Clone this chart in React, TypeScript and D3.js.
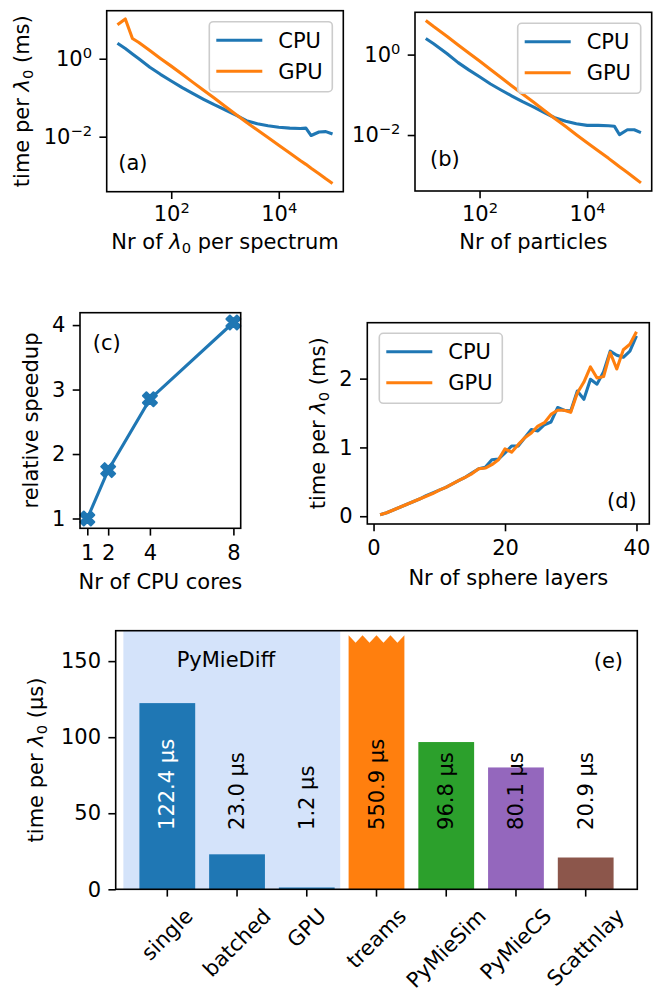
import React, { useEffect, useRef } from "react";
import * as d3 from "d3";

const FONT = "DejaVu Sans, Verdana, sans-serif";
const FS = 21;
const TICK = 7.3;
const LW = 3.1;
const C0 = "#1f77b4";
const C1 = "#ff7f0e";

// (a) and (b): problem size sweeps, time per wavelength in ms
const sweepSizes = [10, 14, 19, 25, 40, 63, 100, 160, 250, 400, 630, 1000, 1600, 2500, 4000, 6300, 10000, 16000, 25000, 32000, 40000, 56000, 75000, 100000];
const spectrumCpu = [2.51, 1.82, 1.32, 1.0, 0.603, 0.398, 0.269, 0.182, 0.129, 0.0912, 0.0661, 0.049, 0.0355, 0.0257, 0.0214, 0.0191, 0.0174, 0.0166, 0.0162, 0.0166, 0.0107, 0.0132, 0.0135, 0.0117];
const spectrumGpu = [7.4, 10.5, 3.3, 2.6, 1.62, 1.02, 0.646, 0.398, 0.251, 0.155, 0.0977, 0.0603, 0.0372, 0.0234, 0.0148, 0.00955, 0.00603, 0.0038, 0.00245, 0.00195, 0.00155, 0.00112, 0.00083, 0.00063];
const particleCpu = [2.51, 1.86, 1.38, 1.05, 0.631, 0.417, 0.282, 0.186, 0.132, 0.0933, 0.0676, 0.0501, 0.0363, 0.0269, 0.0219, 0.0191, 0.0174, 0.0174, 0.017, 0.0166, 0.0102, 0.0135, 0.0135, 0.0115];
const particleGpu = [7.08, 5.01, 3.72, 2.82, 1.74, 1.1, 0.692, 0.427, 0.269, 0.166, 0.105, 0.0661, 0.0407, 0.0257, 0.0162, 0.0102, 0.00646, 0.00407, 0.00263, 0.00204, 0.00162, 0.00117, 0.00087, 0.000646];
const logXTicks = [1e2, 1e4];
const logYTicks = [1e0, 1e-2];

// (c): CPU scaling
const cores = [1, 2, 4, 8];
const speedup = [1.0, 1.75, 2.85, 4.04];
const speedTicks = [1, 2, 3, 4];

// (d): multilayer spheres, ms
const layers = [1, 2, 3, 4, 5, 6, 7, 8, 9, 10, 11, 12, 13, 14, 15, 16, 17, 18, 19, 20, 21, 22, 23, 24, 25, 26, 27, 28, 29, 30, 31, 32, 33, 34, 35, 36, 37, 38, 39, 40];
const layerCpu = [0.02, 0.05, 0.09, 0.13, 0.17, 0.21, 0.25, 0.3, 0.34, 0.38, 0.42, 0.47, 0.52, 0.57, 0.63, 0.69, 0.71, 0.82, 0.83, 0.92, 1.02, 1.02, 1.14, 1.26, 1.24, 1.33, 1.37, 1.58, 1.54, 1.53, 1.82, 1.7, 1.99, 1.92, 2.1, 2.4, 2.34, 2.31, 2.4, 2.62];
const layerGpu = [0.02, 0.05, 0.09, 0.13, 0.17, 0.21, 0.25, 0.29, 0.33, 0.38, 0.42, 0.47, 0.52, 0.57, 0.62, 0.69, 0.7, 0.75, 0.82, 0.98, 0.93, 1.04, 1.14, 1.21, 1.31, 1.36, 1.48, 1.54, 1.54, 1.51, 1.79, 1.95, 2.17, 2.01, 2.03, 2.38, 2.14, 2.42, 2.5, 2.68];
const layerXTicks = [0, 20, 40];
const layerYTicks = [0, 1, 2];

// (e): code comparison, µs
const codes = ["single", "batched", "GPU", "treams", "PyMieSim", "PyMieCS", "Scattnlay"];
const timesUs = [122.4, 23.0, 1.2, 550.9, 96.8, 80.1, 20.9];
const barColors = [C0, C0, C0, C1, "#2ca02c", "#9467bd", "#8c564b"];
const usTicks = [0, 50, 100, 150];
const usMax = 170;
const breakTop = 167;
const breakDepth = 5;
const labelAt = 39;
const pyMieSpan = [-0.63, 2.48];

type Box = { l: number; r: number; t: number; b: number };
const boxA: Box = { l: 106.7, r: 343.3, t: 10.7, b: 191.7 };
const boxB: Box = { l: 415, r: 651.7, t: 12.3, b: 191 };
const boxC: Box = { l: 80, r: 240.7, t: 312.7, b: 528.3 };
const boxD: Box = { l: 367.3, r: 649.3, t: 322.7, b: 524 };
const boxE: Box = { l: 115.7, r: 637.3, t: 630.7, b: 889.3 };

const xMarker = [[-0.25, -0.5], [0, -0.25], [0.25, -0.5], [0.5, -0.25], [0.25, 0], [0.5, 0.25], [0.25, 0.5], [0, 0.25], [-0.25, 0.5], [-0.5, 0.25], [-0.25, 0], [-0.5, -0.25]];

const padLin = (vals: number[]): [number, number] => {
  const [lo, hi] = d3.extent(vals) as [number, number];
  const m = (hi - lo) * 0.05;
  return [lo - m, hi + m];
};
const padLog = (vals: number[]): [number, number] => {
  const [lo, hi] = padLin(vals.map(Math.log10));
  return [10 ** lo, 10 ** hi];
};

function frame(g: any, box: Box) {
  g.append("rect")
    .attr("x", box.l).attr("y", box.t)
    .attr("width", box.r - box.l).attr("height", box.b - box.t)
    .attr("fill", "none").attr("stroke", "#000").attr("stroke-width", 1.6);
}

function styleAxis(g: any) {
  g.select(".domain").remove();
  g.attr("font-family", FONT).attr("font-size", FS);
  g.selectAll(".tick line").attr("stroke-width", 1.6);
  g.selectAll(".tick text").attr("fill", "#000");
}

function powLabels(g: any) {
  g.selectAll(".tick text").each(function (this: SVGTextElement, d: number) {
    const e = Math.round(Math.log10(d));
    const t = d3.select(this);
    t.text("10");
    t.append("tspan").attr("dy", -8).attr("font-size", FS * 0.7).text(e < 0 ? "\u2212" + -e : String(e));
  });
}

// text with an italic lambda and subscript zero
function lamText(t: any, before: string, after: string) {
  t.style("white-space", "pre");
  t.append("tspan").text(before);
  t.append("tspan").attr("font-style", "italic").text("\u03bb");
  t.append("tspan").attr("dy", 4).attr("font-size", FS * 0.7).text("0");
  t.append("tspan").attr("dy", -4).text(after);
}

function yLabel(svg: any, x: number, box: Box, before: string, after = "") {
  const t = svg.append("text")
    .attr("transform", `translate(${x},${(box.t + box.b) / 2}) rotate(-90)`)
    .attr("text-anchor", "middle");
  if (after) lamText(t, before, after);
  else t.text(before);
}

function xLabel(svg: any, y: number, box: Box, before: string, after = "") {
  const t = svg.append("text")
    .attr("x", (box.l + box.r) / 2).attr("y", y)
    .attr("text-anchor", "middle");
  if (after) lamText(t, before, after);
  else t.text(before);
}

function legend(svg: any, x: number, y: number, entries: [string, string][]) {
  svg.append("rect")
    .attr("x", x).attr("y", y).attr("width", 123).attr("height", 70).attr("rx", 4)
    .attr("fill", "#fff").attr("fill-opacity", 0.8)
    .attr("stroke", "#cccccc").attr("stroke-width", 1.6);
  entries.forEach(([label, color], i) => {
    const yy = y + 18.5 + i * 31;
    svg.append("line")
      .attr("x1", x + 7).attr("x2", x + 53).attr("y1", yy).attr("y2", yy)
      .attr("stroke", color).attr("stroke-width", LW);
    svg.append("text").attr("x", x + 69).attr("y", yy + 7.5).text(label);
  });
}

function logPanel(svg: any, box: Box, cpu: number[], gpu: number[]) {
  const x = d3.scaleLog().domain(padLog(sweepSizes)).range([box.l, box.r]);
  const y = d3.scaleLog().domain(padLog([...cpu, ...gpu])).range([box.b, box.t]);
  const line = d3.line<number>().x((_, i) => x(sweepSizes[i])).y((d) => y(d));
  [[cpu, C0], [gpu, C1]].forEach(([vals, color]) => {
    svg.append("path").attr("d", line(vals as number[]))
      .attr("fill", "none").attr("stroke", color as string)
      .attr("stroke-width", LW).attr("stroke-linejoin", "round");
  });
  frame(svg, box);
  svg.append("g").attr("transform", `translate(0,${box.b})`)
    .call(d3.axisBottom(x).tickValues(logXTicks).tickSize(TICK).tickPadding(TICK).tickFormat(() => ""))
    .call(styleAxis).call(powLabels);
  svg.append("g").attr("transform", `translate(${box.l},0)`)
    .call(d3.axisLeft(y).tickValues(logYTicks).tickSize(TICK).tickPadding(TICK).tickFormat(() => ""))
    .call(styleAxis).call(powLabels);
}

export default function App() {
  const ref = useRef<SVGSVGElement>(null);

  useEffect(() => {
    const svg = d3.select(ref.current);
    svg.selectAll("*").remove();
    svg.attr("font-family", FONT).attr("font-size", FS);

    // ---- (a)
    logPanel(svg, boxA, spectrumCpu, spectrumGpu);
    legend(svg, boxA.r - 11 - 123, boxA.t + 11, [["CPU", C0], ["GPU", C1]]);
    svg.append("text").attr("x", boxA.l + 11.6).attr("y", 169.5).text("(a)");
    yLabel(svg, 29, boxA, "time per ", " (ms)");
    xLabel(svg, 249, boxA, "Nr of ", " per spectrum");

    // ---- (b)
    logPanel(svg, boxB, particleCpu, particleGpu);
    legend(svg, boxB.r - 11 - 123, boxB.t + 11, [["CPU", C0], ["GPU", C1]]);
    svg.append("text").attr("x", boxB.l + 15).attr("y", 166).text("(b)");
    xLabel(svg, 249, boxB, "Nr of particles");

    // ---- (c)
    const xc = d3.scaleLinear().domain(padLin(cores)).range([boxC.l, boxC.r]);
    const yc = d3.scaleLinear().domain(padLin(speedup)).range([boxC.b, boxC.t]);
    svg.append("path")
      .attr("d", d3.line<number>().x((_, i) => xc(cores[i])).y((d) => yc(d))(speedup))
      .attr("fill", "none").attr("stroke", C0).attr("stroke-width", LW);
    const markerPath = "M" + xMarker.map(([a, b]) => `${a * 14},${b * 14}`).join("L") + "Z";
    svg.selectAll(".mk").data(speedup).join("path")
      .attr("d", markerPath)
      .attr("transform", (d: number, i: number) => `translate(${xc(cores[i])},${yc(d)})`)
      .attr("fill", C0).attr("stroke", C0).attr("stroke-width", 2).attr("stroke-linejoin", "round");
    frame(svg, boxC);
    svg.append("g").attr("transform", `translate(0,${boxC.b})`)
      .call(d3.axisBottom(xc).tickValues(cores).tickSize(TICK).tickPadding(TICK).tickFormat(d3.format("d")))
      .call(styleAxis).call((g: any) => g.selectAll(".tick text").attr("dy", "0.8em"));
    svg.append("g").attr("transform", `translate(${boxC.l},0)`)
      .call(d3.axisLeft(yc).tickValues(speedTicks).tickSize(TICK).tickPadding(TICK).tickFormat(d3.format("d")))
      .call(styleAxis);
    svg.append("text").attr("x", boxC.l + 12.7).attr("y", 350).text("(c)");
    yLabel(svg, 38, boxC, "relative speedup");
    xLabel(svg, 589, boxC, "Nr of CPU cores");

    // ---- (d)
    const xd = d3.scaleLinear().domain(padLin(layers)).range([boxD.l, boxD.r]);
    const yd = d3.scaleLinear().domain(padLin([...layerCpu, ...layerGpu])).range([boxD.b, boxD.t]);
    const lineD = d3.line<number>().x((_, i) => xd(layers[i])).y((d) => yd(d));
    [[layerCpu, C0], [layerGpu, C1]].forEach(([vals, color]) => {
      svg.append("path").attr("d", lineD(vals as number[]))
        .attr("fill", "none").attr("stroke", color as string)
        .attr("stroke-width", LW).attr("stroke-linejoin", "round");
    });
    frame(svg, boxD);
    svg.append("g").attr("transform", `translate(0,${boxD.b})`)
      .call(d3.axisBottom(xd).tickValues(layerXTicks).tickSize(TICK).tickPadding(TICK).tickFormat(d3.format("d")))
      .call(styleAxis).call((g: any) => g.selectAll(".tick text").attr("dy", "0.8em"));
    svg.append("g").attr("transform", `translate(${boxD.l},0)`)
      .call(d3.axisLeft(yd).tickValues(layerYTicks).tickSize(TICK).tickPadding(TICK).tickFormat(d3.format("d")))
      .call(styleAxis);
    legend(svg, boxD.l + 12, boxD.t + 10.6, [["CPU", C0], ["GPU", C1]]);
    svg.append("text").attr("x", boxD.r - 12.6).attr("y", 508).attr("text-anchor", "end").text("(d)");
    yLabel(svg, 325, boxD, "time per ", " (ms)");
    xLabel(svg, 584.5, boxD, "Nr of sphere layers");

    // ---- (e)
    const xe = d3.scaleBand<string>().domain(codes).range([boxE.l, boxE.r]).paddingInner(0.2).paddingOuter(0.34);
    const ye = d3.scaleLinear().domain([0, usMax]).range([boxE.b, boxE.t]);
    const step = xe.step();
    const bw = xe.bandwidth();
    const cx = (c: string) => (xe(c) as number) + bw / 2;
    const at = (u: number) => cx(codes[0]) + u * step;

    svg.append("rect")
      .attr("x", at(pyMieSpan[0])).attr("y", boxE.t)
      .attr("width", at(pyMieSpan[1]) - at(pyMieSpan[0])).attr("height", boxE.b - boxE.t)
      .attr("fill", "#d4e3fa");

    codes.forEach((c, i) => {
      const v = timesUs[i];
      const x0 = xe(c) as number;
      if (v > usMax) {
        const p = d3.path();
        p.moveTo(x0, ye(0));
        p.lineTo(x0, ye(breakTop));
        for (let k = 0; k < 4; k++) {
          p.lineTo(x0 + ((2 * k + 1) * bw) / 8, ye(breakTop - breakDepth));
          p.lineTo(x0 + ((2 * k + 2) * bw) / 8, ye(breakTop));
        }
        p.lineTo(x0 + bw, ye(0));
        p.closePath();
        svg.append("path").attr("d", p.toString()).attr("fill", barColors[i]);
      } else {
        svg.append("rect")
          .attr("x", x0).attr("y", ye(v))
          .attr("width", bw).attr("height", ye(0) - ye(v))
          .attr("fill", barColors[i]);
      }
      svg.append("text")
        .attr("transform", `translate(${cx(c)},${ye(labelAt)}) rotate(-90)`)
        .attr("dominant-baseline", "central")
        .attr("fill", i === 0 ? "#fff" : "#000")
        .text(`${v.toFixed(1)} \u00b5s`);
    });

    svg.append("text").attr("x", at(0.84)).attr("y", ye(146)).attr("text-anchor", "middle").text("PyMieDiff");
    svg.append("text").attr("x", boxE.r - 14.3).attr("y", 668).attr("text-anchor", "end").text("(e)");
    frame(svg, boxE);

    svg.append("g").attr("transform", `translate(0,${boxE.b})`)
      .call(d3.axisBottom(xe).tickSize(TICK).tickPadding(TICK))
      .call(styleAxis)
      .call((g: any) =>
        g.selectAll(".tick text").each(function (this: SVGTextElement) {
          const w = this.getComputedTextLength();
          const half = ((w + FS * 1.16) * Math.SQRT1_2) / 2;
          d3.select(this)
            .attr("y", null).attr("dy", null)
            .attr("text-anchor", "middle").attr("dominant-baseline", "central")
            .attr("transform", `translate(0,${TICK * 2 + half}) rotate(-45)`);
        })
      );
    svg.append("g").attr("transform", `translate(${boxE.l},0)`)
      .call(d3.axisLeft(ye).tickValues(usTicks).tickSize(TICK).tickPadding(TICK).tickFormat(d3.format("d")))
      .call(styleAxis);
    yLabel(svg, 43, boxE, "time per ", " (\u00b5s)");
  }, []);

  return (
    <svg
      ref={ref}
      width={660}
      height={988}
      style={{ position: "absolute", left: 0, top: 0, background: "#fff" }}
    />
  );
}
